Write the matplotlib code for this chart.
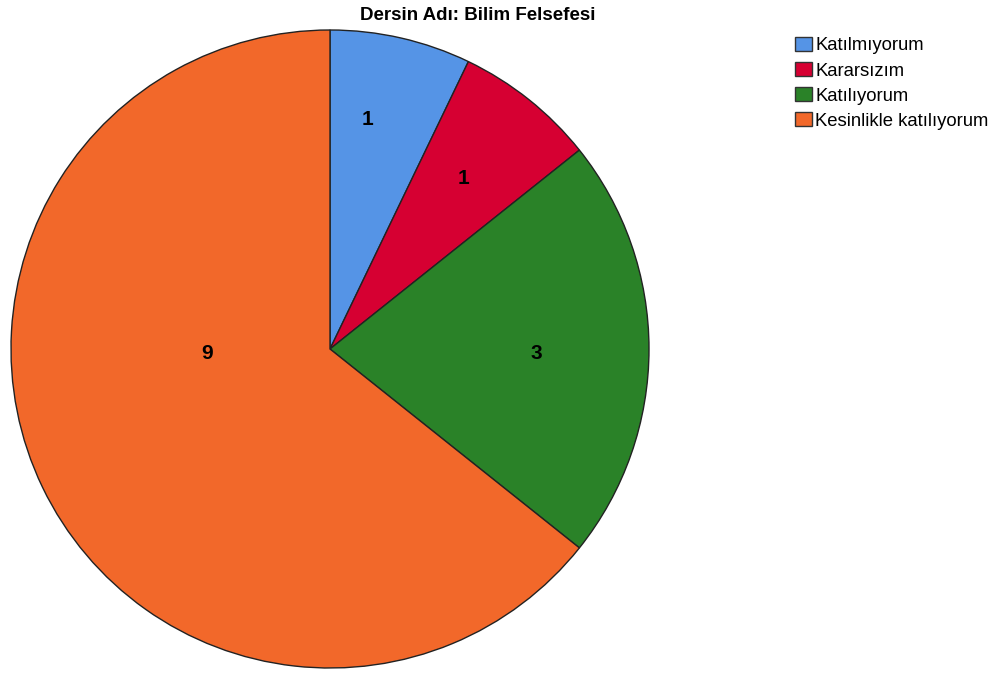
import matplotlib
matplotlib.use("Agg")
import matplotlib.pyplot as plt
from matplotlib.patches import Patch

plt.rcParams['font.family'] = ['Liberation Sans', 'DejaVu Sans']

# Veriler
categories = ['Katılmıyorum', 'Kararsızım', 'Katılıyorum', 'Kesinlikle katılıyorum']
counts = [1, 1, 3, 9]
colors = ['#5594e6', '#d60032', '#2a8228', '#f2682a']
title = 'Dersin Adı: Bilim Felsefesi'

# Etiket konumları (pasta yarıçapına göre)
label_pos = [(0.116, 0.721), (0.42, 0.533), (0.646, -0.013), (-0.386, -0.013)]

W, H = 1006, 673
fig = plt.figure(figsize=(W / 100, H / 100), dpi=100)

# Pasta: merkez (330, 349), yarıçap 319 piksel
cx, cy, r = 330, 349, 319
ax = fig.add_axes([(cx - r) / W, (H - cy - r) / H, 2 * r / W, 2 * r / H])
wedges, _ = ax.pie(counts, colors=colors, startangle=90, counterclock=False,
                   radius=1, wedgeprops=dict(edgecolor='#222222', linewidth=1.0))
ax.set_xlim(-1, 1)
ax.set_ylim(-1, 1)
ax.set_aspect('auto')
ax.axis('off')

for (x, y), v in zip(label_pos, counts):
    ax.text(x, y, str(v), ha='center', va='center', fontsize=15, fontweight='bold')

fig.text(478 / W, 1 - 15 / H, title, ha='center', va='center',
         fontsize=13.5, fontweight='bold')

handles = [Patch(facecolor=c, edgecolor='#333333', linewidth=1.0) for c in colors]
fig.legend(handles, categories, loc='upper left',
           bbox_to_anchor=(795 / W, 1 - 37 / H), frameon=False,
           fontsize=13.3, handlelength=0.9, handleheight=0.8,
           handletextpad=0.2, labelspacing=0.41, borderpad=0, borderaxespad=0)

fig.savefig('out.png', dpi=100)
